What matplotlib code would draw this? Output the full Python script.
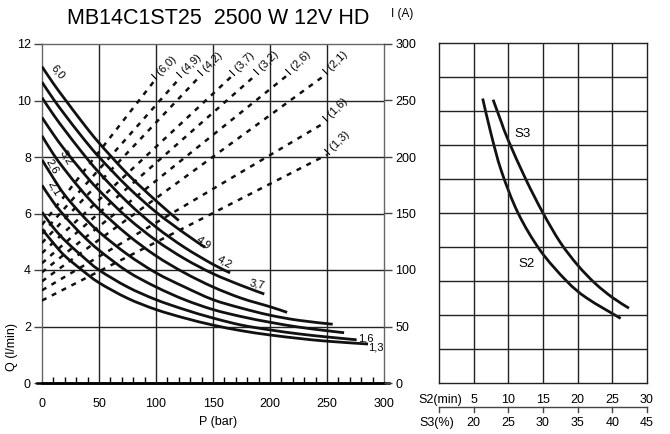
import matplotlib.pyplot as plt
from matplotlib.ticker import MultipleLocator
from matplotlib.path import Path
from matplotlib.patches import PathPatch

plt.rcParams['font.family'] = ['Liberation Sans', 'DejaVu Sans']

W, H = 670, 434

# Q (l/min) against P (bar), one curve per pump size
sizes = ["6,0", "4,9", "4,2", "3,7", "3,2", "2,6", "2,1", "1,6", "1,3"]
q_60 = [11.2, 10.6, 10.05, 9.25, 8.5, 7.4, 6.45, 5.75]
p_60 = [0, 10, 20, 35, 50, 75, 100, 120]
q_49 = [10.65, 10.05, 9.5, 8.72, 8.0, 6.95, 6.05, 5.3, 4.8]
p_49 = [0, 10, 20, 35, 50, 75, 100, 125, 143]
q_42 = [10.1, 9.5, 8.95, 8.17, 7.45, 6.4, 5.52, 4.8, 4.2, 3.9]
p_42 = [0, 10, 20, 35, 50, 75, 100, 125, 150, 165]
q_37 = [9.4, 8.8, 8.25, 7.5, 6.82, 5.85, 5.05, 4.4, 3.87, 3.45, 3.15]
p_37 = [0, 10, 20, 35, 50, 75, 100, 125, 150, 175, 195]
q_32 = [8.75, 8.1, 7.55, 6.8, 6.15, 5.25, 4.5, 3.9, 3.4, 3.0, 2.7, 2.5]
p_32 = [0, 10, 20, 35, 50, 75, 100, 125, 150, 175, 200, 215]
q_26 = [7.9, 7.25, 6.65, 5.95, 5.35, 4.55, 3.9, 3.4, 2.95, 2.65, 2.4, 2.22, 2.08]
p_26 = [0, 10, 20, 35, 50, 75, 100, 125, 150, 175, 200, 225, 255]
q_21 = [7.0, 6.4, 5.9, 5.25, 4.7, 3.95, 3.4, 2.95, 2.6, 2.35, 2.15, 1.98, 1.85, 1.78]
p_21 = [0, 10, 20, 35, 50, 75, 100, 125, 150, 175, 200, 225, 250, 265]
q_16 = [6.05, 5.5, 5.05, 4.5, 4.0, 3.4, 2.95, 2.6, 2.3, 2.05, 1.88, 1.74, 1.63, 1.53]
p_16 = [0, 10, 20, 35, 50, 75, 100, 125, 150, 175, 200, 225, 250, 276]
q_13 = [5.45, 4.95, 4.5, 4.0, 3.55, 3.0, 2.6, 2.3, 2.05, 1.85, 1.7, 1.58, 1.48, 1.38]
p_13 = [0, 10, 20, 35, 50, 75, 100, 125, 150, 175, 200, 225, 250, 286]

flow_p = [p_60, p_49, p_42, p_37, p_32, p_26, p_21, p_16, p_13]
flow_q = [q_60, q_49, q_42, q_37, q_32, q_26, q_21, q_16, q_13]

# where each curve's size label sits (P, Q) and its angle
lab_p = [14, 142, 160, 189, 21, 9, 10.5, 284, 293]
lab_q = [11.0, 4.96, 4.28, 3.5, 8.0, 7.68, 6.9, 1.56, 1.27]
lab_rot = [-50, -35, -30, -12, -60, -60, -60, 0, 0]

# current I (A) against P (bar): straight lines, start at P=0
cur_i_start = [140, 132, 124, 115, 106, 98, 90, 82, 73]
cur_p_end = [99, 121, 139, 167, 188, 216, 249, 249, 250]
cur_i_end = [268, 270, 272, 272, 273, 273, 273, 231, 202]

# duty cycle panel: I (A) against S2 (min)
s3_x = [7.8, 9.0, 10.0, 12.5, 15.0, 17.5, 20.0, 22.5, 25.0, 27.4]
s3_i = [250, 230, 214, 180, 150, 124, 104, 88, 75.5, 66]
s2_x = [6.3, 7.5, 9.0, 11.4, 14.6, 18.4, 21.3, 26.2]
s2_i = [251, 220, 187, 150, 117, 90, 75, 57]
s2_ticks = [5, 10, 15, 20, 25, 30]
s3_ticks = [20, 25, 30, 35, 40, 45]


def smooth(axis, xs, ys, **kw):
    # bezier path through the read points (catmull-rom style handles)
    pts = list(zip(xs, ys))
    verts = [pts[0]]
    codes = [Path.MOVETO]
    for i in range(len(pts) - 1):
        p0 = pts[max(i - 1, 0)]
        p1, p2 = pts[i], pts[i + 1]
        p3 = pts[min(i + 2, len(pts) - 1)]
        c1 = (p1[0] + (p2[0] - p0[0]) / 6, p1[1] + (p2[1] - p0[1]) / 6)
        c2 = (p2[0] - (p3[0] - p1[0]) / 6, p2[1] - (p3[1] - p1[1]) / 6)
        verts += [c1, c2, p2]
        codes += [Path.CURVE4] * 3
    axis.add_patch(PathPatch(Path(verts, codes), fill=False, **kw))


fig = plt.figure(figsize=(W / 100, H / 100), dpi=100)

# ---- left chart
ax = fig.add_axes([42 / W, 51 / H, 342 / W, 339 / H])
ax.set_xlim(0, 300)
ax.set_ylim(0, 12)
for x in range(50, 300, 50):
    ax.axvline(x, color='#222222', lw=1.0, zorder=1)
for y in range(2, 12, 2):
    ax.axhline(y, color='#222222', lw=1.0, zorder=1)

for s in ['left', 'top', 'right']:
    ax.spines[s].set_color('#666666')
    ax.spines[s].set_linewidth(1.0)
ax.spines['bottom'].set_linewidth(1.8)
ax.axhline(0, xmin=-0.015, xmax=1.015, clip_on=False, color='black', lw=1.8, zorder=5)

ax.set_xticks(range(0, 301, 50))
ax.xaxis.set_minor_locator(MultipleLocator(10))
ax.tick_params(axis='x', which='major', length=0, pad=11, labelsize=9)
ax.tick_params(axis='x', which='minor', direction='in', length=4, width=1, color='black')
ax.set_yticks(range(0, 13, 2))
ax.tick_params(axis='y', direction='out', length=6, width=1, color='#444444', pad=2, labelsize=9)

ax2 = ax.twinx()
ax2.set_ylim(0, 300)
ax2.set_yticks(range(0, 301, 50))
ax2.tick_params(axis='y', direction='out', length=6, width=1, color='#444444', pad=2, labelsize=9)
for s in ax2.spines.values():
    s.set_visible(False)

for pe, i0, ie, name in zip(cur_p_end, cur_i_start, cur_i_end, sizes):
    ax2.plot([0, pe], [i0, ie], color='#111111', lw=1.8, ls=(0, (2, 2.4)), zorder=3)
    ax2.annotate("I (" + name + ")", (pe, ie), xytext=(0, 1), textcoords='offset points',
                 rotation=45, rotation_mode='anchor', ha='left', va='center', fontsize=8)

for pp, qq in zip(flow_p, flow_q):
    smooth(ax, pp, qq, edgecolor='#111111', lw=2.0, zorder=4, capstyle='butt')
for name, lp, lq, r in zip(sizes, lab_p, lab_q, lab_rot):
    ax.text(lp, lq, name, rotation=r, ha='center', va='center', fontsize=8, zorder=6)

fig.text(218 / W, 1 - 18 / H, "MB14C1ST25  2500 W 12V HD", ha='center', va='center', fontsize=15.5)
fig.text(402 / W, 1 - 14 / H, "I (A)", ha='center', va='center', fontsize=8.5)
fig.text(218 / W, 1 - 422 / H, "P (bar)", ha='center', va='center', fontsize=9)
fig.text(12 / W, 1 - 347 / H, "Q (l/min)", ha='center', va='center', rotation=90, fontsize=9)

# ---- right chart
ax3 = fig.add_axes([439 / W, 51 / H, 208 / W, 340 / H])
ax3.set_xlim(0, 30)
ax3.set_ylim(0, 300)
ax3.set_xticks([])
ax3.set_yticks([])
for x in range(5, 30, 5):
    ax3.axvline(x, color='#222222', lw=1.0)
for y in range(30, 300, 30):
    ax3.axhline(y, color='#222222', lw=1.0)
for s in ax3.spines.values():
    s.set_color('#222222')
    s.set_linewidth(1.0)

smooth(ax3, s3_x, s3_i, edgecolor='#111111', lw=2.0)
smooth(ax3, s2_x, s2_i, edgecolor='#111111', lw=2.0)
ax3.text(12.0, 220, "S3", ha='center', va='center', fontsize=9.5)
ax3.text(12.6, 105, "S2", ha='center', va='center', fontsize=9.5)

tr = ax3.get_xaxis_transform()
ax3.plot([0, 30], [-0.0706, -0.0706], transform=tr, clip_on=False, color='#444444', lw=1)
for x in [0] + s2_ticks:
    ax3.plot([x, x], [-0.0706, -0.085], transform=tr, clip_on=False, color='#444444', lw=1)
ax3.text(0.2, -0.05, "S2(min)", transform=tr, ha='center', va='center', fontsize=9)
ax3.text(-0.35, -0.118, "S3(%)", transform=tr, ha='center', va='center', fontsize=9)
for x, a, b in zip(s2_ticks, s2_ticks, s3_ticks):
    ax3.text(x, -0.05, str(a), transform=tr, ha='center', va='center', fontsize=9)
    ax3.text(x, -0.118, str(b), transform=tr, ha='center', va='center', fontsize=9)

fig.savefig("out.png", dpi=100)
